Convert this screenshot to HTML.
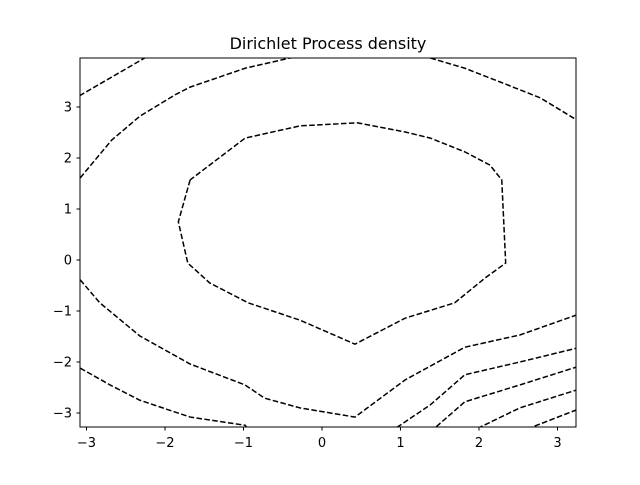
<!DOCTYPE html>
<html><head><meta charset="utf-8"><style>
body{margin:0;background:#fff}
svg text{font-family:"DejaVu Sans","Liberation Sans",sans-serif;fill:#000}
</style></head><body>
<svg id="chart" width="640" height="480">
<defs><clipPath id="clip"><rect x="80" y="58" width="496" height="369"/></clipPath></defs>
<text x="328" y="49" text-anchor="middle" font-size="16">Dirichlet Process density</text>
<g id="lines" clip-path="url(#clip)"></g>
<rect x="80" y="58" width="496" height="369" fill="none" stroke="#000" stroke-width="1"/>
<g id="xaxis"></g>
<g id="yaxis"></g>
</svg>
<script>
const xTicks=[-3,-2,-1,0,1,2,3];
const yTicks=[-3,-2,-1,0,1,2,3];
const c1x=[-3.09,-2.26];
const c1y=[3.22,3.96];
const c2x=[-3.08,-2.68,-2.32,-1.87,-1.68,-0.98,-0.41,0.5,1.38,1.82,2.27,2.78,3.24];
const c2y=[1.61,2.35,2.82,3.24,3.39,3.76,3.96,4.1,3.96,3.76,3.49,3.18,2.75];
const c3x=[-1.68,-1.83,-1.71,-1.43,-0.94,-0.28,0.42,1.06,1.69,2.08,2.34,2.29,2.14,1.82,1.38,1.06,0.45,-0.28,-0.98,-1.68];
const c3y=[1.57,0.75,-0.06,-0.45,-0.84,-1.18,-1.65,-1.14,-0.84,-0.35,-0.06,1.57,1.86,2.12,2.39,2.51,2.69,2.63,2.39,1.57];
const c4x=[-3.08,-2.83,-2.32,-1.68,-0.98,-0.73,-0.28,0.42,1.06,1.82,2.52,3.24];
const c4y=[-0.39,-0.84,-1.49,-2.04,-2.45,-2.71,-2.90,-3.08,-2.35,-1.71,-1.47,-1.08];
const c5x=[-3.08,-2.70,-2.32,-1.68,-0.98,-0.92];
const c5y=[-2.12,-2.45,-2.75,-3.08,-3.24,-3.37];
const c6x=[0.87,1.38,1.82,2.52,3.24];
const c6y=[-3.37,-2.84,-2.25,-2.0,-1.73];
const c7x=[1.38,1.82,2.52,3.24];
const c7y=[-3.37,-2.78,-2.45,-2.10];
const c8x=[1.89,2.52,3.24];
const c8y=[-3.37,-2.90,-2.55];
const c9x=[2.52,3.24];
const c9y=[-3.37,-2.94];
const X=v=>322+v*78.5, Y=v=>260-v*51;
const NS="http://www.w3.org/2000/svg";
const g=document.getElementById('lines');
[[c1x,c1y],[c2x,c2y],[c3x,c3y],[c4x,c4y],[c5x,c5y],[c6x,c6y],[c7x,c7y],[c8x,c8y],[c9x,c9y]].forEach((c,i)=>{
 const p=document.createElementNS(NS,'polyline');
 p.setAttribute('points',c[0].map((x,j)=>X(x)+','+Y(c[1][j])).join(' '));
 p.setAttribute('fill','none');p.setAttribute('stroke','#000');p.setAttribute('stroke-width','1.5');
 p.setAttribute('stroke-dasharray','5.55,2.4');
 
 
 g.appendChild(p);
});
const fmt=v=>(v<0?'\u2212':'')+Math.abs(v);
const xa=document.getElementById('xaxis');
xTicks.forEach(v=>{
 const l=document.createElementNS(NS,'line');
 l.setAttribute('x1',X(v));l.setAttribute('x2',X(v));l.setAttribute('y1',427);l.setAttribute('y2',430.5);l.setAttribute('stroke','#000');
 
 
 xa.appendChild(l);
 const t=document.createElementNS(NS,'text');
 t.setAttribute('x',X(v));t.setAttribute('y',447);t.setAttribute('text-anchor','middle');t.setAttribute('font-size','13');
 t.textContent=fmt(v);
 
 
 xa.appendChild(t);
});
const ya=document.getElementById('yaxis');
yTicks.forEach(v=>{
 const l=document.createElementNS(NS,'line');
 l.setAttribute('x1',76.5);l.setAttribute('x2',80);l.setAttribute('y1',Y(v));l.setAttribute('y2',Y(v));l.setAttribute('stroke','#000');
 
 
 ya.appendChild(l);
 const t=document.createElementNS(NS,'text');
 t.setAttribute('x',72);t.setAttribute('y',Y(v)+4.5);t.setAttribute('text-anchor','end');t.setAttribute('font-size','13');
 t.textContent=fmt(v);
 
 
 ya.appendChild(t);
});
</script>
</body></html>
